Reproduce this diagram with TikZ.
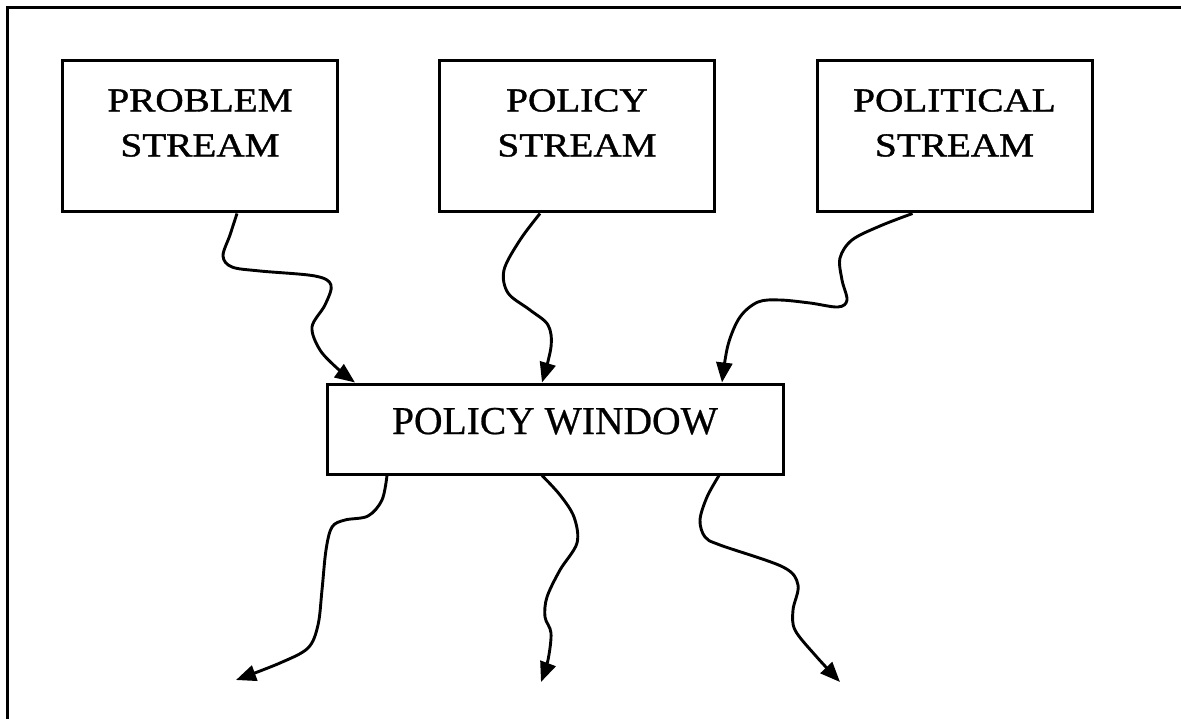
\documentclass[tikz,border=0pt]{standalone}
\usepackage{fontspec}
\setmainfont{Liberation Serif}
\newfontfamily\wideserif[FakeStretch=1.17,FakeBold=1.2]{Liberation Serif}
\newfontfamily\winserif[FakeBold=0.6]{Liberation Serif}
\usetikzlibrary{arrows.meta}
\begin{document}
\begin{tikzpicture}[x=1pt,y=-1pt,
  frameline/.style={line width=2.6pt},
  streambox/.style={draw, line width=3pt, minimum width=275pt, minimum height=151pt, inner sep=0pt},
  windowbox/.style={draw, line width=3pt, minimum width=456pt, minimum height=90pt, inner sep=0pt},
  streamlbl/.style={font=\wideserif\fontsize{33.5}{45}\selectfont, align=center, inner sep=0pt, anchor=north},
  windowlbl/.style={font=\winserif\fontsize{39.5}{45}\selectfont, inner sep=0pt, anchor=base},
  flow/.style={line width=2.9pt, line join=round, -{Triangle[length=20pt,width=16pt]}}
]
\useasboundingbox (0,0) rectangle (1181,719);
\fill[white] (0,0) rectangle (1181,719);
% frame (top and left only)
\draw[frameline] (1181,7.5) -- (7.5,7.5) -- (7.5,719);

% boxes
\node[streambox] (prob) at (200,136.5) {};
\node[streambox] (pol)  at (577,136.5) {};
\node[streambox] (polt) at (954.5,136.5) {};
\node[windowbox] (win)  at (555,429) {};

% labels
\node[streamlbl] (probt) at (200,89) {PROBLEM\\STREAM};
\node[streamlbl] (polT)  at (577,89) {POLICY\\STREAM};
\node[streamlbl] (poltt) at (954.5,89) {POLITICAL\\STREAM};
\node[windowlbl] (wint)  at (555,434) {POLICY WINDOW};

% free ends of outgoing arrows
\coordinate (endA) at (236,680);
\coordinate (endB) at (541,682);
\coordinate (endC) at (840,682);

% incoming arrows
\draw[flow] plot[smooth, tension=0.55] coordinates {
  ([xshift=37pt]prob.south) (230,235) (223,256) (232,267) (260,271) (315,276)
  (331,285) (325,305) (312,327) (320,350) (338,369) ([xshift=-200pt]win.north)};
\draw[flow] plot[smooth, tension=0.55] coordinates {
  ([xshift=-37pt]pol.south) (520,240) (504,270) (508,293) (530,310) (548,325)
  (551,347) ([xshift=-13pt]win.north)};
\draw[flow] plot[smooth, tension=0.55] coordinates {
  ([xshift=-42pt]polt.south) (880,226) (852,240) (840,258) (842,280) (847,300)
  (838,307) (810,303) (780,300) (758,302) (740,317) (728,345) ([xshift=167pt]win.north)};

% outgoing arrows
\draw[flow] plot[smooth, tension=0.55] coordinates {
  ([xshift=-168pt]win.south) (382,500) (368,516) (345,520) (332,527) (326,550)
  (322,590) (318,625) (308,648) (280,663) (endA)};
\draw[flow] plot[smooth, tension=0.55] coordinates {
  ([xshift=-13pt]win.south) (560,495) (574,517) (577,543) (560,570) (547,597)
  (545,617) (551,633) (548,660) (endB)};
\draw[flow] plot[smooth, tension=0.55] coordinates {
  ([xshift=164pt]win.south) (707,497) (700,520) (705,537) (720,545) (783,567)
  (798,585) (793,610) (795,630) (815,655) (endC)};
\end{tikzpicture}
\end{document}
